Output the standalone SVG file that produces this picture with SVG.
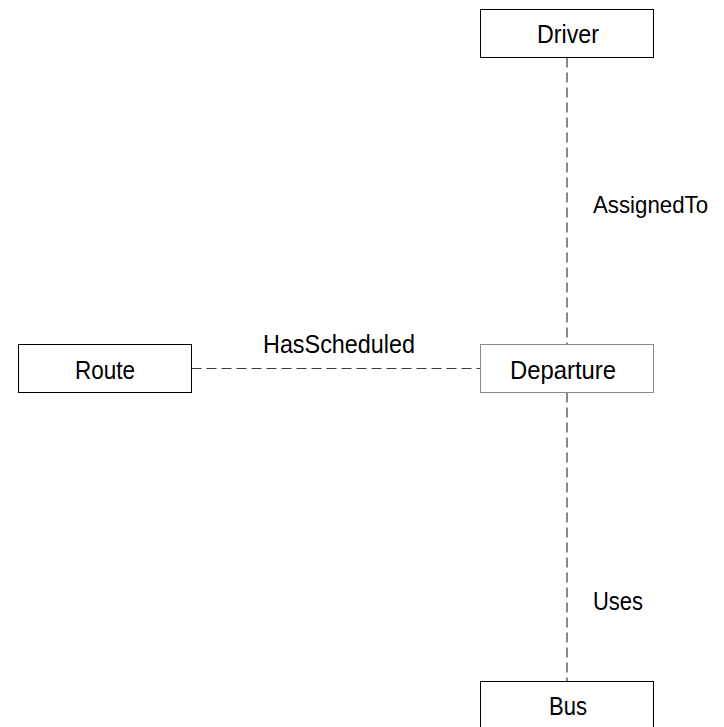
<svg xmlns="http://www.w3.org/2000/svg" width="724" height="727" viewBox="0 0 724 727">
  <style>
    .box { fill: #ffffff; stroke: #000000; stroke-width: 1; }
    .box.soft { stroke: #8a8a8a; }
    .lbl { font-family: "Liberation Sans", Arial, sans-serif; font-size: 26px; fill: #000000; }
    .lbl.tight { font-size: 24px; }
    .edge { stroke: #3a3a3a; stroke-width: 1.2; stroke-dasharray: 10 5; fill: none; }
  </style>
  <rect width="724" height="727" fill="#ffffff"/>

  <g id="connectors">
    <line class="edge" x1="567" y1="57.5" x2="567" y2="344.5"/>
    <line class="edge" x1="191.5" y1="368.5" x2="480.5" y2="368.5"/>
    <line class="edge" x1="567" y1="392.5" x2="567" y2="681.5"/>
    <text class="lbl tight" x="593" y="212.5" textLength="115" lengthAdjust="spacingAndGlyphs">AssignedTo</text>
    <text class="lbl" x="263" y="352.5" textLength="152" lengthAdjust="spacingAndGlyphs">HasScheduled</text>
    <text class="lbl" x="593" y="609.5" textLength="50" lengthAdjust="spacingAndGlyphs">Uses</text>
  </g>

  <g id="driver">
    <rect class="box" x="480.5" y="9.5" width="173" height="48"/>
    <text class="lbl" x="537" y="42.5" textLength="62" lengthAdjust="spacingAndGlyphs">Driver</text>
  </g>

  <g id="route">
    <rect class="box" x="18.5" y="344.5" width="173" height="48"/>
    <text class="lbl" x="75" y="378.5" textLength="60" lengthAdjust="spacingAndGlyphs">Route</text>
  </g>

  <g id="departure">
    <rect class="box soft" x="480.5" y="344.5" width="173" height="48"/>
    <text class="lbl" x="510" y="378.5" textLength="106" lengthAdjust="spacingAndGlyphs">Departure</text>
  </g>

  <g id="bus">
    <rect class="box" x="480.5" y="681.5" width="173" height="48"/>
    <text class="lbl" x="549" y="715" textLength="38" lengthAdjust="spacingAndGlyphs">Bus</text>
  </g>
</svg>
